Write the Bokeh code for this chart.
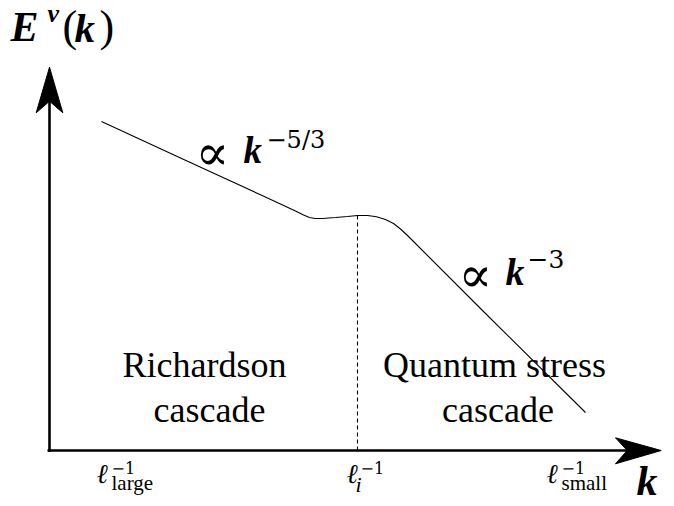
from bokeh.plotting import figure
from bokeh.models import Range1d
from bokeh.core.properties import value
from bokeh.embed import file_html
from bokeh.resources import INLINE

# ---- schematic spectrum E^v(k) (arbitrary units, origin at axes corner) ----
k_curve = [52, 131, 211, 246, 254, 260, 266, 273, 286, 298, 308, 318, 327,
           336, 344, 351, 358, 431, 536]
E_curve = [329, 292.6, 255.7, 239.5, 235.5, 233, 232, 232, 233, 234, 235, 235,
           233.7, 231, 227, 221.5, 215, 142, 38]
k_i = 308          # position of l_i^-1 (crossover)
E_at_k_i = 235

# axes extents
k_axis = [-2, 578]
E_axis = [-1.5, 350]
# arrow heads (stealth style)
arrow_up_x = [0, -13.3, 0, 13.3]
arrow_up_y = [383.3, 337.7, 349.3, 337.7]
arrow_right_x = [611.7, 566, 577.7, 566]
arrow_right_y = [0, 12.7, 0, -13.3]

# ---- texts ----
region_labels = ["Richardson", "cascade", "Quantum stress", "cascade"]
region_x = [155, 160, 445, 448.5]
region_y = [73, 28, 73, 28]

tick_names = ["large", "i", "small"]
tick_ell_x = [47, 297, 497]
tick_sub_x = [62, 306, 512]
tick_sup_x = [62, 311, 512]

p = figure(width=674, height=506, x_range=Range1d(-49, 625), y_range=Range1d(-56, 450),
           output_backend="svg", toolbar_location=None, min_border=0,
           x_axis_location=None, y_axis_location=None, outline_line_color=None,
           background_fill_color="white", border_fill_color="white")
p.grid.visible = False

# axes
p.line(k_axis, [0, 0], line_color="black", line_width=2.6)
p.line([0, 0], E_axis, line_color="black", line_width=2.6)
p.patch(arrow_up_x, arrow_up_y, fill_color="black", line_color="black", line_width=1)
p.patch(arrow_right_x, arrow_right_y, fill_color="black", line_color="black", line_width=1)

# spectrum
p.line(k_curve, E_curve, line_color="black", line_width=1.1)
p.line([k_i, k_i], [0, E_at_k_i], line_color="black", line_width=1.1, line_dash="4 3")

BASE_SHIFT = 0.36  # compensates the renderer's baseline offset (in em)


def txt(x, y, s, font, size, style="normal", align="left"):
    p.text(x=[x], y=[y + BASE_SHIFT * size], text=[s], text_font=value(font),
           text_font_size=f"{size}px", text_font_style=style, text_align=align,
           text_baseline="alphabetic", text_color="black")


# region labels
for s, x, y in zip(region_labels, region_x, region_y):
    txt(x, y, s, "Liberation Serif", 36, align="center")

# y-axis label E^v(k)
txt(-39, 408, "E", "Liberation Serif", 42, "bold italic")
txt(-2, 428, "v", "Liberation Serif", 26, "bold italic")
txt(13, 408, "(", "Liberation Serif", 44)
txt(25, 408, "k", "Liberation Serif", 41, "bold italic")
txt(50, 408, ")", "Liberation Serif", 44)

# x-axis label k
txt(587, -46, "k", "Liberation Serif", 42, "bold italic")

# power laws
txt(146, 280, "\u221d", "DejaVu Serif", 50)
txt(194, 287, "k", "Liberation Serif", 37, "bold italic")
txt(217, 302, "\u22125/3", "DejaVu Serif", 24)

txt(409, 158, "\u221d", "DejaVu Serif", 50)
txt(456, 165, "k", "Liberation Serif", 38, "bold italic")
txt(478, 183, "\u22123", "DejaVu Serif", 25)

# tick labels
for name, xe, xs, xu in zip(tick_names, tick_ell_x, tick_sub_x, tick_sup_x):
    txt(xe, -33, "\u2113", "Liberation Serif", 27, "italic")
    txt(xu, -23, "\u22121", "DejaVu Serif", 16)
    if name == "i":
        txt(xs, -42, name, "Liberation Serif", 22, "italic")
    else:
        txt(xs, -40, name, "Liberation Serif", 21)

open("out.html", "w").write(file_html(p, INLINE))
